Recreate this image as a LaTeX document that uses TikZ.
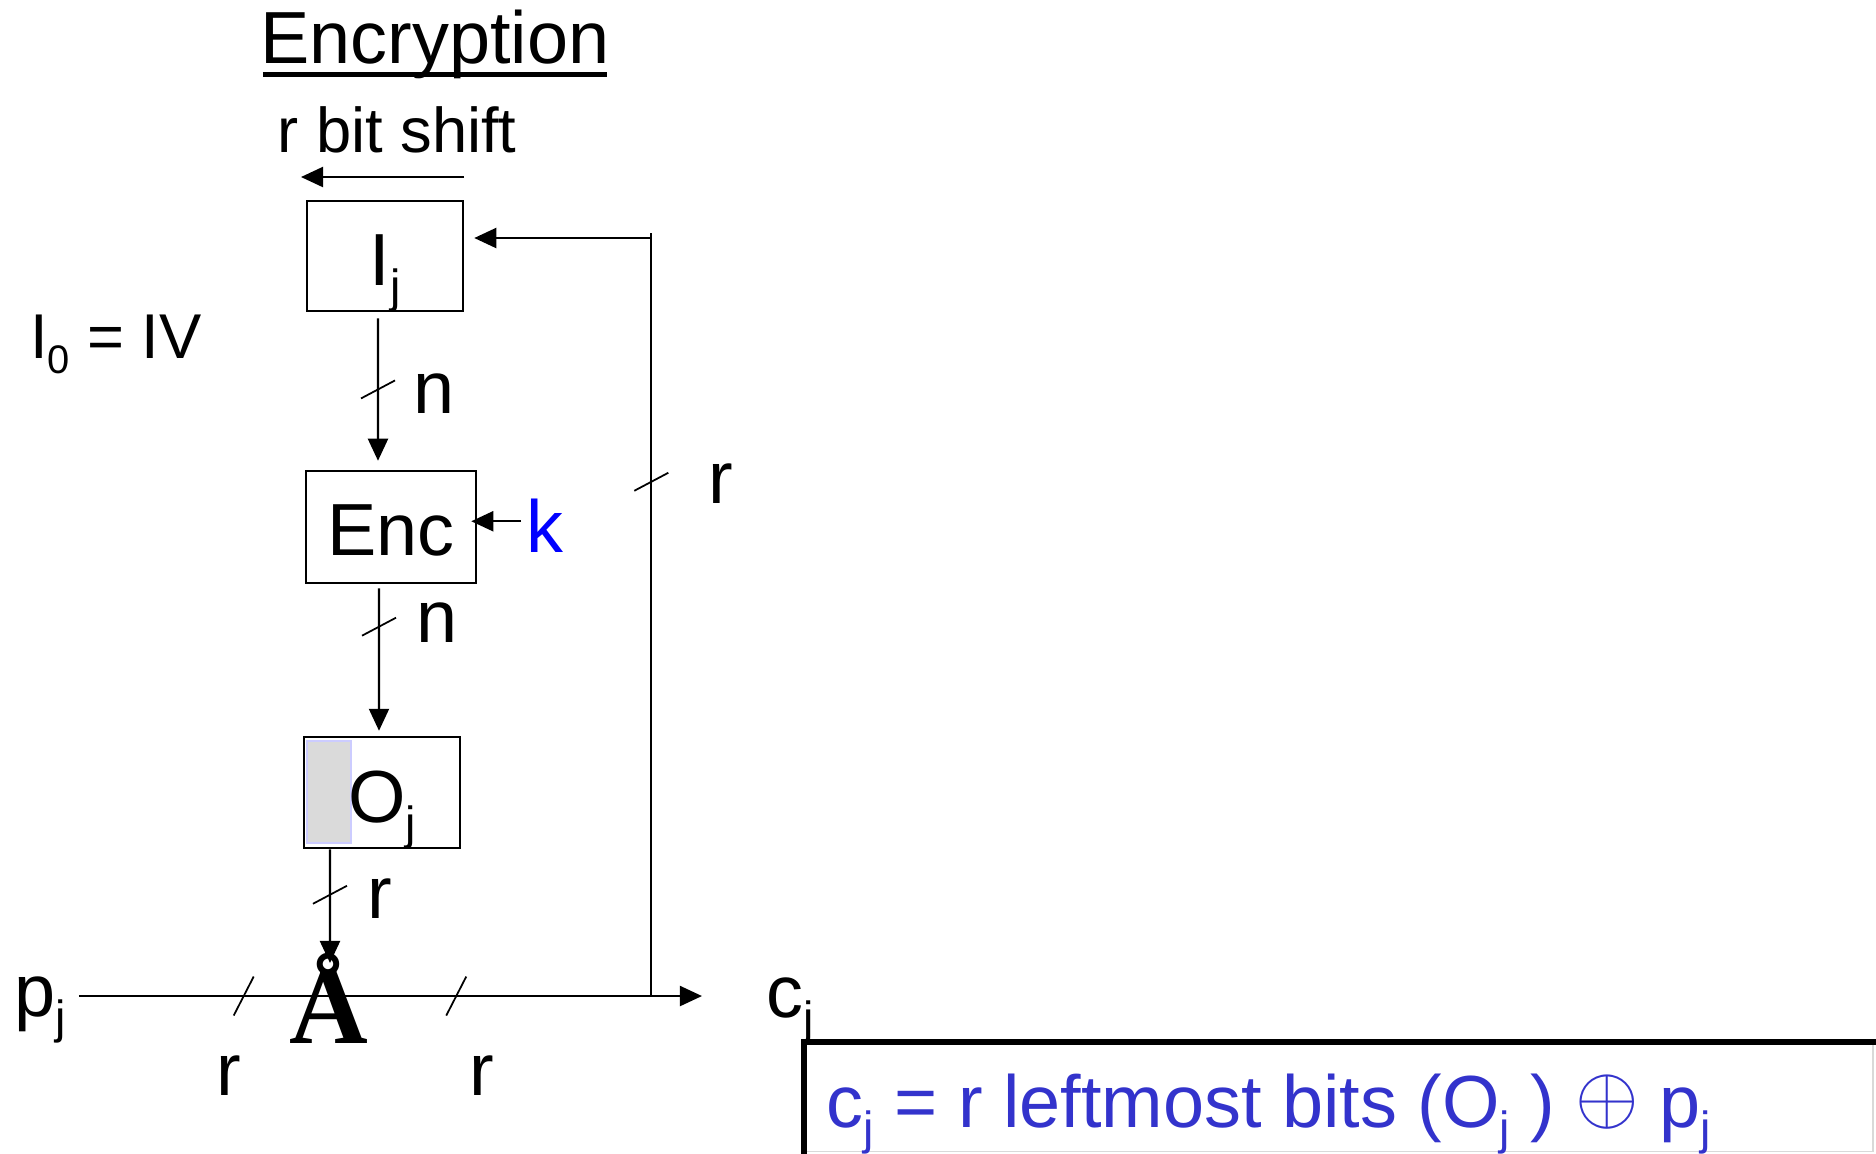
\documentclass[tikz,border=0pt]{standalone}
\usepackage{fontspec}
\setmainfont{Liberation Sans}
\newfontfamily\xorfont{Liberation Serif}
\usetikzlibrary{arrows.meta,calc}
\definecolor{kblue}{HTML}{0000FF}
\definecolor{fblue}{HTML}{3333CC}
\definecolor{shadegrey}{HTML}{DADADA}
\definecolor{shadeedge}{HTML}{CCCCFF}
\newcommand{\fsz}[1]{\fontsize{#1pt}{#1pt}\selectfont}
\newcommand{\mysub}[1]{\raisebox{-0.24em}{\scalebox{0.63}{#1}}}
\begin{document}
\begin{tikzpicture}[x=0.01cm,y=-0.01cm,
  every node/.style={font=\fsz{21}},
  lbl/.style={inner sep=0pt, anchor=base},
  box/.style={draw, line width=0.7pt, inner sep=0pt, text height=#1, text depth=0pt},
  ln/.style={line width=0.6pt},
  arr/.style={line width=0.6pt, -{Triangle[length=0.22cm,width=0.2cm]}},
  tk/.style={line width=0.5pt}]
\useasboundingbox (0,0) rectangle (1876,1153);

% title
\node[lbl] (title) at (435,63) {Encryption};
\draw[line width=0.05cm] ([shift={(0.03cm,-0.115cm)}]title.base west) -- ([shift={(-0.03cm,-0.115cm)}]title.base east);

% shift
\node[lbl, font=\fsz{18}] (shift) at (397,152) {r bit shift};
\coordinate (sh1) at (464,177);
\coordinate (sh2) at (301,177);
\draw[arr] (sh1) -- (sh2);

% IV
\node[lbl, font=\fsz{18}] (iv) at (116,358) {I\mysub{0} = IV};

% boxes
\node[box=0.58cm, minimum width=1.56cm, minimum height=1.10cm] (ij) at (385,256) {I\mysub{j}};
\node[box=0.56cm, minimum width=1.70cm, minimum height=1.12cm] (enc) at (391,527) {Enc};
\node[fill=shadegrey, draw=shadeedge, line width=0.4pt, inner sep=0pt, minimum width=0.44cm, minimum height=1.02cm] (shade) at (329,792) {};
\node[box=0.59cm, minimum width=1.56cm, minimum height=1.11cm] (oj) at (382,792.5) {O\mysub{j}};

% key
\node[lbl, anchor=base west, text=kblue] (k) at (526,552) {k};
\coordinate (kin) at ([yshift=0.04cm]k.west);
\draw[arr, shorten <=0.05cm, shorten >=-0.06cm] (kin) -- (kin -| enc.east);

% Ij -> Enc
\draw[arr, shorten <=0.06cm, shorten >=0.09cm] ([xshift=-0.07cm]ij.south) -- coordinate[pos=0.49] (t1) ([xshift=-0.13cm]enc.north);
\draw[tk] ($(t1)+(-17,9)$) -- ($(t1)+(17,-9)$);
\node[lbl] (n1) at (434,413) {n};

% Enc -> Oj
\draw[arr, shorten <=0.04cm, shorten >=0.05cm] ([xshift=-0.12cm]enc.south) -- coordinate[pos=0.28] (t2) ([xshift=-0.03cm]oj.north);
\draw[tk] ($(t2)+(-17,9)$) -- ($(t2)+(17,-9)$);
\node[lbl] (n2) at (437,642) {n};

% input / output
\node[lbl, anchor=base west] (pj) at (14,1016) {p\mysub{j}};
\node[lbl, anchor=base west] (cj) at (766,1017) {c\mysub{j}};
\coordinate (row) at (0,996);
\draw[arr, shorten <=0.12cm, shorten >=0.64cm] (pj.east |- row) -- coordinate[pos=0.253] (t4) coordinate[pos=0.557] (t5) coordinate[pos=0.836] (fb) (cj.west |- row);
\draw[tk] ($(t4)+(-10,19.5)$) -- ($(t4)+(10,-19.5)$);
\draw[tk] ($(t5)+(-10,19.5)$) -- ($(t5)+(10,-19.5)$);
\node[lbl] (r3) at (229,1095) {r};
\node[lbl] (r4) at (482,1095) {r};

% XOR
\node[lbl, font=\xorfont\bfseries\fsz{31}] (xor) at (329,1043) {Å};
\coordinate (xtop) at ([shift={(0.01cm,0.80cm)}]xor.base);
\draw[arr] ([xshift=-0.52cm]oj.south) -- coordinate[pos=0.4] (t6) (xtop);
\draw[tk] ($(t6)+(-17,9)$) -- ($(t6)+(17,-9)$);
\node[lbl] (r2) at (380,918) {r};

% feedback
\coordinate (ijin) at ([yshift=0.18cm]ij.east);
\coordinate (fbtop) at ($(fb)+(0,-763)$);
\draw[ln] (fb) -- coordinate[pos=0.674] (t3) (fbtop);
\draw[arr, shorten >=0.1cm] (fbtop |- ijin) -- (ijin);
\draw[tk] ($(t3)+(-17,9)$) -- ($(t3)+(17,-9)$);
\node[lbl] (r1) at (721,503) {r};

% formula
\draw[line width=0.06cm] (1880,1042) -| (804,1160);
\draw[line width=0.4pt, draw=black!15] (1873,1045) -- (1873,1151.5) -- (807,1151.5);
\node[lbl, anchor=base west, text=fblue] (formula) at (826,1127) {c\mysub{j} = r leftmost bits (O\mysub{j} ) \raisebox{0.06em}{\scalebox{1.12}{$\oplus$}} p\mysub{j}};
\end{tikzpicture}
\end{document}
